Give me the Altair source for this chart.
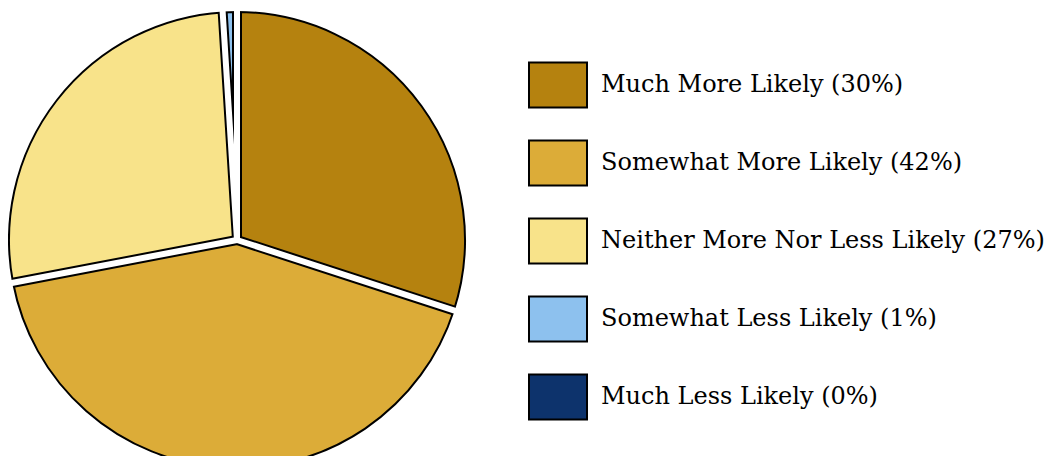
import altair as alt
import pandas as pd

categories = ["Much More Likely", "Somewhat More Likely", "Neither More Nor Less Likely",
              "Somewhat Less Likely", "Much Less Likely"]
percent = [30, 42, 27, 1, 0]
colors = ["#B5820F", "#DCAC38", "#F8E38A", "#8DC1EE", "#0D336C"]
labels = [f"{c} ({p}%)" for c, p in zip(categories, percent)]

df = pd.DataFrame({"label": labels, "value": percent, "idx": list(range(len(labels)))})

R = 228
CX, CY = 229, 232
theta_scale = alt.Scale(domain=[0, 100])

pie = alt.Chart(df).mark_arc(outerRadius=R, stroke="black", strokeWidth=2).encode(
    theta=alt.Theta("value:Q", stack=True, scale=theta_scale),
    color=alt.Color(
        "label:N",
        scale=alt.Scale(domain=labels, range=colors),
        sort=labels,
        legend=alt.Legend(
            title=None, orient="none", legendX=520, legendY=47,
            symbolType="M-1,-0.776H1V0.776H-1Z", symbolSize=3364,
            symbolStrokeColor="black", symbolStrokeWidth=2, symbolOpacity=1,
            labelFont="DejaVu Serif", labelFontSize=24, labelColor="black",
            labelOffset=13, rowPadding=21, labelLimit=0,
        ),
    ),
    order=alt.Order("idx:Q"),
    x=alt.value(CX), y=alt.value(CY),
)

sep = alt.Chart(df).transform_window(
    cum="sum(value)", sort=[alt.SortField("idx")], frame=[None, 0]
).encode(
    theta=alt.Theta("cum:Q", stack=False, scale=theta_scale),
    theta2="cum:Q",
    x=alt.value(CX), y=alt.value(CY),
)
sep_black = sep.mark_arc(outerRadius=R, stroke="black", strokeWidth=10, fillOpacity=0)
sep_white = sep.mark_arc(outerRadius=R + 4, stroke="white", strokeWidth=6, fillOpacity=0)

chart = alt.layer(pie, sep_black, sep_white).properties(
    width=1042, height=448, padding=0,
    autosize=alt.AutoSizeParams(type="none"),
).configure_view(stroke=None)

chart.save("out.html", embed_options={"renderer": "svg", "actions": False})
